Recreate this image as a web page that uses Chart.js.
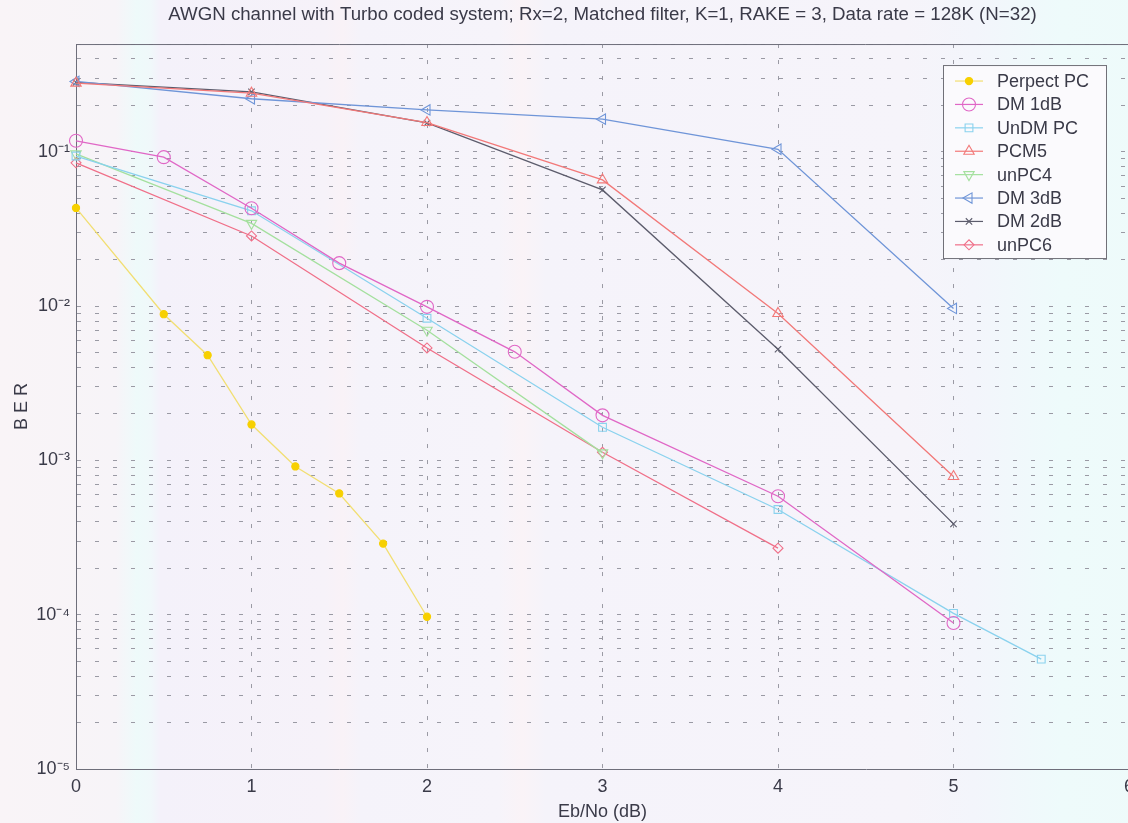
<!DOCTYPE html>
<html><head><meta charset="utf-8">
<script src="https://cdn.jsdelivr.net/npm/chart.js@4/dist/chart.umd.min.js"></script>
<style>
html,body{margin:0;padding:0;overflow:hidden;background:#f6f4f9;}
#wrap{position:relative;width:1160px;height:823px;}
</style></head><body>
<div id="wrap"><canvas id="c"></canvas></div>
<script>
// ---------- data ----------
const titleText = "AWGN channel with Turbo coded system; Rx=2, Matched filter, K=1, RAKE = 3, Data rate = 128K (N=32)";
const xAxisTitle = "Eb/No (dB)";
const yAxisTitle = "B E R";
const xTickValues = [0, 1, 2, 3, 4, 5, 6];
const yMajorTicks = [1e-5, 1e-4, 1e-3, 1e-2, 1e-1];
const yMajorLabels = ["10⁻⁵", "10⁻⁴", "10⁻³", "10⁻²", "10⁻¹"];
const yMinorMultipliers = [1, 2, 3, 4, 5, 6, 7, 8, 9];
const yMin = 1e-5, yMax = 0.5;

const seriesNames = ["Perpect PC", "DM 1dB", "UnDM PC", "PCM5", "unPC4", "DM 3dB", "DM 2dB", "unPC6"];

const xPerfect = [0, 0.5, 0.75, 1, 1.25, 1.5, 1.75, 2];
const berPerfect = [0.0433, 0.00887, 0.00481, 0.00171, 0.000914, 0.000611, 0.000289, 0.000097];

const xDM1 = [0, 0.5, 1, 1.5, 2, 2.5, 3, 4, 5];
const berDM1 = [0.118, 0.0924, 0.0431, 0.0190, 0.0099, 0.00506, 0.00196, 0.000586, 0.0000883];

const xUnDM = [0, 1, 2, 3, 4, 5, 5.5];
const berUnDM = [0.094, 0.0415, 0.00835, 0.00164, 0.000481, 0.000102, 0.0000515];

const xPCM5 = [0, 1, 2, 3, 4, 5];
const berPCM5 = [0.279, 0.240, 0.155, 0.0658, 0.00897, 0.000787];

const xUnPC4 = [0, 1, 2, 3];
const berUnPC4 = [0.0970, 0.0344, 0.00698, 0.00112];

const xDM3 = [0, 1, 2, 3, 4, 5];
const berDM3 = [0.286, 0.221, 0.187, 0.163, 0.104, 0.00966];

const xDM2 = [0, 1, 2, 3, 4, 5];
const berDM2 = [0.282, 0.245, 0.154, 0.0567, 0.00526, 0.000388];

const xUnPC6 = [0, 1, 2, 3, 4];
const berUnPC6 = [0.0849, 0.0285, 0.00536, 0.00113, 0.00027];

// ---------- build ----------
const yTickValues = [];
yMajorTicks.forEach(d => yMinorMultipliers.forEach(m => { const v = d * m; if (v <= yMax * 1.0001) yTickValues.push(v); }));

function pts(xs, ys) { return xs.map((x, i) => ({ x: x, y: ys[i] })); }

const FONT = '"Liberation Sans", Arial, Helvetica, sans-serif';
const TEXT = '#3a3a48';

function ds(label, xs, ys, line, mark, fill, style, radius, rotation) {
  return {
    label: label, data: pts(xs, ys),
    borderColor: line, borderWidth: 1.3,
    pointStyle: style, pointRadius: radius, pointRotation: rotation || 0,
    pointBorderColor: mark, pointBackgroundColor: fill, pointBorderWidth: 1.1,
    pointHoverRadius: radius, tension: 0, clip: false, fill: false
  };
}

const datasets = [
  ds(seriesNames[0], xPerfect, berPerfect, '#f2df72', '#f7d000', '#f7d000', 'circle', 3.6),
  ds(seriesNames[1], xDM1, berDM1, '#e067c6', '#e067c6', 'rgba(0,0,0,0)', 'circle', 6.5),
  ds(seriesNames[2], xUnDM, berUnDM, '#8ad2ee', '#8ad2ee', 'rgba(0,0,0,0)', 'rect', 5.5),
  ds(seriesNames[3], xPCM5, berPCM5, '#f27878', '#f27878', 'rgba(0,0,0,0)', 'triangle', 6),
  ds(seriesNames[4], xUnPC4, berUnPC4, '#a4e09e', '#a4e09e', 'rgba(0,0,0,0)', 'triangle', 6, 180),
  ds(seriesNames[5], xDM3, berDM3, '#6f95d8', '#6f95d8', 'rgba(0,0,0,0)', 'triangle', 6, 270),
  ds(seriesNames[6], xDM2, berDM2, '#5c5c6c', '#5c5c6c', 'rgba(0,0,0,0)', 'crossRot', 4.5),
  ds(seriesNames[7], xUnPC6, berUnPC6, '#f06f88', '#f06f88', 'rgba(0,0,0,0)', 'rectRot', 5)
];

const bgPlugin = {
  id: 'scanBg',
  beforeDraw(chart) {
    const { ctx, width, height } = chart;
    const g = ctx.createLinearGradient(0, 0, width, 0);
    const stops = [[0, '#f9f4f7'], [0.10, '#f7f4f8'], [0.118, '#eefafa'], [0.13, '#f0f8fa'], [0.138, '#f4f1fa'],
      [0.28, '#f6f2f9'], [0.295, '#f9f2f7'], [0.31, '#f5f3fa'], [0.43, '#f6f4fa'], [0.45, '#faf3f7'], [0.47, '#f5f3fa'],
      [0.78, '#f6f4fa'], [0.84, '#f3f5fb'], [0.915, '#eefbfb'], [1, '#eefafa']];
    stops.forEach(s => g.addColorStop(s[0], s[1]));
    ctx.save(); ctx.fillStyle = g; ctx.fillRect(0, 0, width, height); ctx.restore();
  }
};

function drawMarker(ctx, opts, x, y) {
  if (Chart.helpers && Chart.helpers.drawPoint) { Chart.helpers.drawPoint(ctx, opts, x, y); return; }
  ctx.beginPath(); ctx.arc(x, y, opts.radius, 0, Math.PI * 2); ctx.fill(); ctx.stroke();
}

const framePlugin = {
  id: 'frameLegend',
  afterDraw(chart) {
    const { ctx, chartArea } = chart;
    ctx.save();
    ctx.strokeStyle = '#6e6e7a'; ctx.lineWidth = 1;
    ctx.beginPath(); ctx.moveTo(chartArea.left, chartArea.top + 0.5); ctx.lineTo(chartArea.right, chartArea.top + 0.5); ctx.stroke();
    // legend
    const x0 = chartArea.right - 186, y0 = chartArea.top + 21, w = 163, h = 193;
    ctx.fillStyle = '#fbfafd'; ctx.fillRect(x0, y0, w, h);
    ctx.strokeStyle = '#707078'; ctx.strokeRect(x0 + 0.5, y0 + 0.5, w, h);
    chart.data.datasets.forEach((d, i) => {
      const y = y0 + 16 + i * 23.4;
      ctx.strokeStyle = d.borderColor; ctx.lineWidth = 1.2;
      ctx.beginPath(); ctx.moveTo(x0 + 12, y); ctx.lineTo(x0 + 40, y); ctx.stroke();
      ctx.fillStyle = d.pointBackgroundColor; ctx.strokeStyle = d.pointBorderColor; ctx.lineWidth = 1.1;
      drawMarker(ctx, { pointStyle: d.pointStyle, rotation: d.pointRotation, radius: d.pointRadius, borderWidth: 1.1 }, x0 + 26, y);
      ctx.fillStyle = TEXT; ctx.font = '18px ' + FONT; ctx.textBaseline = 'middle'; ctx.textAlign = 'left';
      ctx.fillText(d.label, x0 + 54, y + 1);
    });
    ctx.restore();
  }
};

new Chart(document.getElementById('c'), {
  type: 'line',
  data: { datasets: datasets },
  plugins: [bgPlugin, framePlugin],
  options: {
    responsive: true, maintainAspectRatio: false, animation: false,
    layout: { padding: { left: 0, right: 31, top: 0, bottom: 0 } },
    plugins: {
      legend: { display: false },
      tooltip: { enabled: false },
      title: { display: true, text: titleText, fullSize: false, color: TEXT,
        font: { family: FONT, size: 18.7, weight: 'normal' }, padding: { top: 4, bottom: 17.6 } }
    },
    scales: {
      x: {
        type: 'linear', min: 0, max: 6,
        afterBuildTicks: s => { s.ticks = xTickValues.map(v => ({ value: v })); },
        afterFit: s => { s.height = 54; },
        ticks: { color: TEXT, font: { family: FONT, size: 18 }, padding: 7, maxRotation: 0, autoSkip: false },
        grid: { color: '#9a9aa4', lineWidth: 1, drawTicks: false },
        border: { display: true, color: '#6e6e7a', width: 1, dash: [4, 12] },
        title: { display: true, text: xAxisTitle, color: TEXT, font: { family: FONT, size: 18 }, padding: { top: 0, bottom: 0 } }
      },
      y: {
        type: 'logarithmic', min: yMin, max: yMax,
        afterBuildTicks: s => { s.ticks = yTickValues.map(v => ({ value: v })); },
        afterFit: s => { s.width = 76; },
        ticks: {
          color: TEXT, font: { family: FONT, size: 18 }, padding: 6, autoSkip: false,
          callback: (v) => {
            const k = yMajorTicks.findIndex(m => Math.abs(Math.log10(m) - Math.log10(v)) < 1e-6);
            return k >= 0 ? yMajorLabels[k] : '';
          }
        },
        grid: { color: '#9a9aa4', lineWidth: 1, drawTicks: false },
        border: { display: true, color: '#6e6e7a', width: 1, dash: [4, 14] },
        title: { display: true, text: yAxisTitle, color: TEXT, font: { family: FONT, size: 18 }, padding: { top: 11, bottom: 0 } }
      }
    }
  }
});
</script>
</body></html>
